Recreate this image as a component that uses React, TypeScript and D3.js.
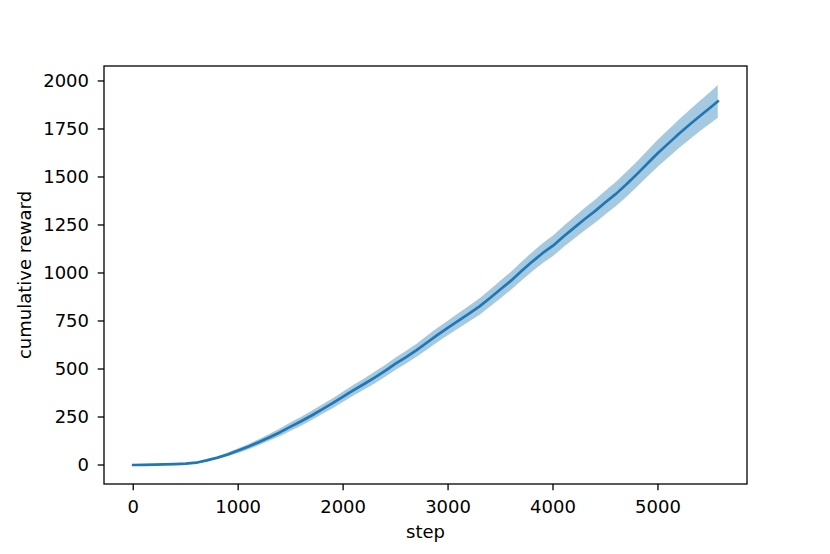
import React from "react";
import * as d3 from "d3";

const steps = [0,100,200,300,400,500,600,700,800,900,1000,1100,1200,1300,1400,1500,1600,1700,1800,1900,2000,2100,2200,2300,2400,2500,2600,2700,2800,2900,3000,3100,3200,3300,3400,3500,3600,3700,3800,3900,4000,4100,4200,4300,4400,4500,4600,4700,4800,4900,5000,5100,5200,5300,5400,5500,5570];
const meanReward = [0,1,2,3,5,7,12,24,38,55,75,96,120,145,171,200,228,258,290,322,356,390,422,455,490,528,562,598,638,678,715,752,788,826,870,915,960,1010,1058,1103,1142,1190,1235,1280,1322,1368,1412,1462,1515,1570,1625,1675,1725,1772,1818,1862,1894];
const bandHalf = [0,1,1,2,2,3,4,6,8,10,12,14,16,18,20,22,23,24,25,26,27,28,29,30,31,32,33,34,36,37,38,40,41,43,44,46,47,49,50,52,53,55,57,59,60,62,63,65,66,68,70,72,74,77,79,82,85];
const xTicks = [0,1000,2000,3000,4000,5000];
const yTicks = [0,250,500,750,1000,1250,1500,1750,2000];

const W = 830, H = 554;
const L = 104, R = 747, T = 66, B = 484;

export default function App() {
  const pts = steps.map((s, i) => ({ s, m: meanReward[i], lo: meanReward[i] - bandHalf[i], hi: meanReward[i] + bandHalf[i] }));
  const xMin = d3.min(steps)!, xMax = d3.max(steps)!;
  const yMin = d3.min(pts, d => d.lo)!, yMax = d3.max(pts, d => d.hi)!;
  const xPad = (xMax - xMin) * 0.05, yPad = (yMax - yMin) * 0.05;
  const x = d3.scaleLinear().domain([xMin - xPad, xMax + xPad]).range([L, R]);
  const y = d3.scaleLinear().domain([yMin - yPad, yMax + yPad]).range([B, T]);
  const area = d3.area<any>().x(d => x(d.s)).y0(d => y(d.lo)).y1(d => y(d.hi));
  const line = d3.line<any>().x(d => x(d.s)).y(d => y(d.m));
  const font = "DejaVu Sans, sans-serif";
  return (
    <svg width={W} height={H} style={{ position: "absolute", left: 0, top: 0, background: "#fff" }} fontFamily={font}>
      <rect x={0} y={0} width={W} height={H} fill="#fff" />
      <path d={area(pts)!} fill="#1f77b4" fillOpacity={0.4} stroke="none" />
      <path d={line(pts)!} fill="none" stroke="#1f77b4" strokeWidth={2.7} strokeLinejoin="round" strokeLinecap="square" />
      <rect x={L} y={T} width={R - L} height={B - T} fill="none" stroke="#000" strokeWidth={1.3} />
      {xTicks.map(t => (
        <g key={"x" + t}>
          <line x1={x(t)} x2={x(t)} y1={B} y2={B + 6.3} stroke="#000" strokeWidth={1.3} />
          <text x={x(t)} y={513} textAnchor="middle" fontSize={18} fill="#000">{t}</text>
        </g>
      ))}
      {yTicks.map(t => (
        <g key={"y" + t}>
          <line x1={L - 6.3} x2={L} y1={y(t)} y2={y(t)} stroke="#000" strokeWidth={1.3} />
          <text x={89} y={y(t)} dy="0.36em" textAnchor="end" fontSize={18} fill="#000">{t}</text>
        </g>
      ))}
      <text x={(L + R) / 2} y={538} textAnchor="middle" fontSize={18} fill="#000">step</text>
      <text transform={`translate(31,${(T + B) / 2}) rotate(-90)`} textAnchor="middle" fontSize={18} fill="#000">cumulative reward</text>
    </svg>
  );
}
